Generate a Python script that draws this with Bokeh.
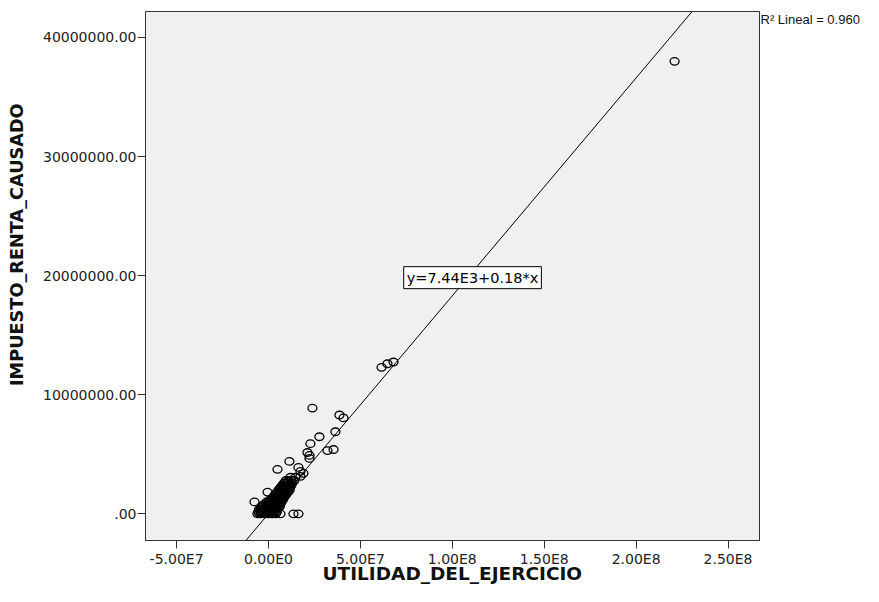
from bokeh.plotting import figure
from bokeh.models import Range1d, FixedTicker, Slope, Label, LinearAxis
from bokeh.embed import file_html
from bokeh.resources import INLINE

# --- data ---
# isolated points
utilidad = [
    2.209e8, 6.15e7, 6.47e7, 6.80e7, 2.39e7, 3.86e7, 4.08e7, 3.64e7, 2.77e7, 2.28e7,
    3.21e7, 3.54e7, 2.12e7, 2.23e7, 2.23e7, 1.14e7, 4.9e6, 1.63e7, 1.74e7, -5.0e5,
    -7.6e6, 6.5e6, 1.36e7, 1.63e7, 1.90e7, 1.20e7, 1.47e7, 1.74e7,
]
impuesto = [
    3.80e7, 1.23e7, 1.26e7, 1.275e7, 8.88e6, 8.30e6, 8.05e6, 6.89e6, 6.47e6, 5.89e6,
    5.31e6, 5.40e6, 5.15e6, 4.90e6, 4.65e6, 4.40e6, 3.74e6, 3.90e6, 3.57e6, 1.83e6,
    1.00e6, 0.0, 0.0, 0.0, 3.40e6, 3.07e6, 3.07e6, 3.15e6,
]
# dense cluster of small companies near the origin (values in millions)
cluster_utilidad_m = [
    -6.0, -5.1, -4.0, -3.1, -2.0, -1.1, 0.0, 0.9, 2.0, 3.1, 4.0,
    -5.5, -4.4, -3.6, -2.5, -1.4, -0.6, 0.5, 1.6, 2.4, 3.5, 4.6,
    -5.0, -3.9, -3.0, -2.1, -1.0, 0.1, 1.0, 1.9, 3.0, 4.1, 5.0,
    -4.0, -3.1, -2.0, -0.9, 0.0, 1.1, 2.0, 3.0, 3.9, 5.0, 6.1,
    -2.5, -1.4, -0.5, 0.6, 1.5, 2.4, 3.5, 4.6, 5.5, 6.4,
    -1.0, 0.1, 1.0, 2.1, 3.0, 3.9, 5.0, 6.1, 7.0,
    1.0, 2.1, 3.0, 3.9, 5.0, 6.1, 7.0, 8.0,
    2.5, 3.6, 4.5, 5.4, 6.5, 7.6, 8.5,
    3.5, 4.4, 5.5, 6.6, 7.5, 8.4, 9.5,
    4.5, 5.6, 6.5, 7.4, 8.5, 9.6, 10.5,
    5.5, 6.4, 7.5, 8.6, 9.5, 10.4, 11.5,
    6.5, 7.6, 8.5, 9.4, 10.5, 11.6,
    7.5, 8.4, 9.5, 10.6, 11.5, 12.4,
    8.5, 10.0, 11.5, 13.0,
    9.5, 11.0, 12.5, 14.0,
]
cluster_impuesto_m = [
    0.0, 0.05, 0.0, 0.02, 0.0, 0.05, 0.0, 0.03, 0.0, 0.05, 0.0,
    0.2, 0.18, 0.22, 0.2, 0.17, 0.21, 0.2, 0.19, 0.22, 0.2, 0.18,
    0.4, 0.42, 0.38, 0.4, 0.41, 0.39, 0.4, 0.42, 0.38, 0.4, 0.41,
    0.6, 0.62, 0.58, 0.6, 0.61, 0.6, 0.59, 0.62, 0.6, 0.58, 0.6,
    0.8, 0.82, 0.78, 0.8, 0.81, 0.79, 0.8, 0.82, 0.78, 0.8,
    1.0, 1.02, 0.98, 1.0, 1.01, 0.99, 1.0, 1.02, 0.98,
    1.2, 1.22, 1.18, 1.2, 1.21, 1.19, 1.2, 1.22,
    1.4, 1.42, 1.38, 1.4, 1.41, 1.39, 1.4,
    1.6, 1.62, 1.58, 1.6, 1.61, 1.59, 1.6,
    1.8, 1.82, 1.78, 1.8, 1.81, 1.79, 1.8,
    2.0, 2.02, 1.98, 2.0, 2.01, 1.99, 2.0,
    2.2, 2.22, 2.18, 2.2, 2.21, 2.19,
    2.4, 2.42, 2.38, 2.4, 2.41, 2.39,
    2.6, 2.62, 2.58, 2.6,
    2.8, 2.78, 2.82, 2.8,
]

fit_intercept = 7.44e3
fit_slope = 0.183
fit_text = "y=7.44E3+0.18*x"
r2_text = "R\u00b2 Lineal = 0.960"

x_ticks = [-50000000, 0, 50000000, 100000000, 150000000, 200000000, 250000000]
x_tick_labels = ["-5.00E7", "0.00E0", "5.00E7", "1.00E8", "1.50E8", "2.00E8", "2.50E8"]
y_ticks = [0, 10000000, 20000000, 30000000, 40000000]
y_tick_labels = [".00", "10000000.00", "20000000.00", "30000000.00", "40000000.00"]

x_title = "UTILIDAD_DEL_EJERCICIO"
y_title = "IMPUESTO_RENTA_CAUSADO"

xs = utilidad + [v * 1e6 for v in cluster_utilidad_m]
ys = impuesto + [v * 1e6 for v in cluster_impuesto_m]

# --- figure ---
p = figure(width=863, height=586, output_backend="svg", toolbar_location=None,
           x_range=Range1d(-66.9e6, 267.1e6), y_range=Range1d(-2.24e6, 42.18e6),
           min_border_left=145, min_border_right=104, min_border_top=11,
           min_border_bottom=42)
p.background_fill_color = "#f0f0f0"
p.border_fill_color = "white"
p.outline_line_color = "#333333"
p.outline_line_width = 1
p.grid.visible = False

for ax in (p.xaxis[0], p.yaxis[0]):
    ax.axis_line_color = "#333333"
    ax.major_tick_line_color = "#333333"
    ax.major_tick_out = 8
    ax.major_tick_in = 0
    ax.minor_tick_line_color = None
    ax.major_label_text_font = "DejaVu Sans"
    ax.major_label_text_font_size = "14px"
    ax.major_label_text_color = "#222222"

p.xaxis.ticker = FixedTicker(ticks=x_ticks)
p.xaxis.major_label_overrides = dict(zip(x_ticks, x_tick_labels))
p.xaxis.major_label_standoff = 2
p.yaxis.ticker = FixedTicker(ticks=y_ticks)
p.yaxis.major_label_overrides = dict(zip(y_ticks, y_tick_labels))
p.yaxis.major_label_standoff = 1


def title_axis(pos, text, size, standoff, orientation="horizontal", font="DejaVu Sans",
               style="bold"):
    return LinearAxis(ticker=FixedTicker(ticks=[pos]),
                      major_label_overrides={pos: text},
                      major_label_orientation=orientation,
                      major_label_text_font=font,
                      major_label_text_font_style=style,
                      major_label_text_font_size=size,
                      major_label_text_color="#111111",
                      major_label_standoff=standoff,
                      axis_line_color=None, major_tick_line_color=None,
                      minor_tick_line_color=None, major_tick_out=0, major_tick_in=0)


# y title: single label of an outer left axis, placed where SPSS puts it
y_title_pos = 22600000
p.add_layout(title_axis(y_title_pos, y_title, "17.7px", 12, "vertical"), "left")

# x title: single label of an outer bottom axis, centred under the frame
x_title_pos = 100000000
p.add_layout(title_axis(x_title_pos, x_title, "18.5px", -7), "below")

# R^2 note: single label of a right axis (outside the frame)
r2_pos = 41500000
p.add_layout(title_axis(r2_pos, r2_text, "13px", 1, font="Liberation Sans",
                        style="normal"), "right")

p.ellipse(xs, ys, width=9, height=7.5, width_units="screen",
          height_units="screen", fill_color=None, line_color="black", line_width=1.3)

p.add_layout(Slope(gradient=fit_slope, y_intercept=fit_intercept,
                   line_color="black", line_width=1))

p.add_layout(Label(x=111e6, y=19.83e6, text=fit_text, text_align="center",
                   text_baseline="middle", text_font="DejaVu Sans",
                   text_font_size="14.5px", text_color="black",
                   background_fill_color="white", border_line_color="black",
                   border_line_width=1, padding=3))

open("out.html", "w").write(file_html(p, INLINE))
